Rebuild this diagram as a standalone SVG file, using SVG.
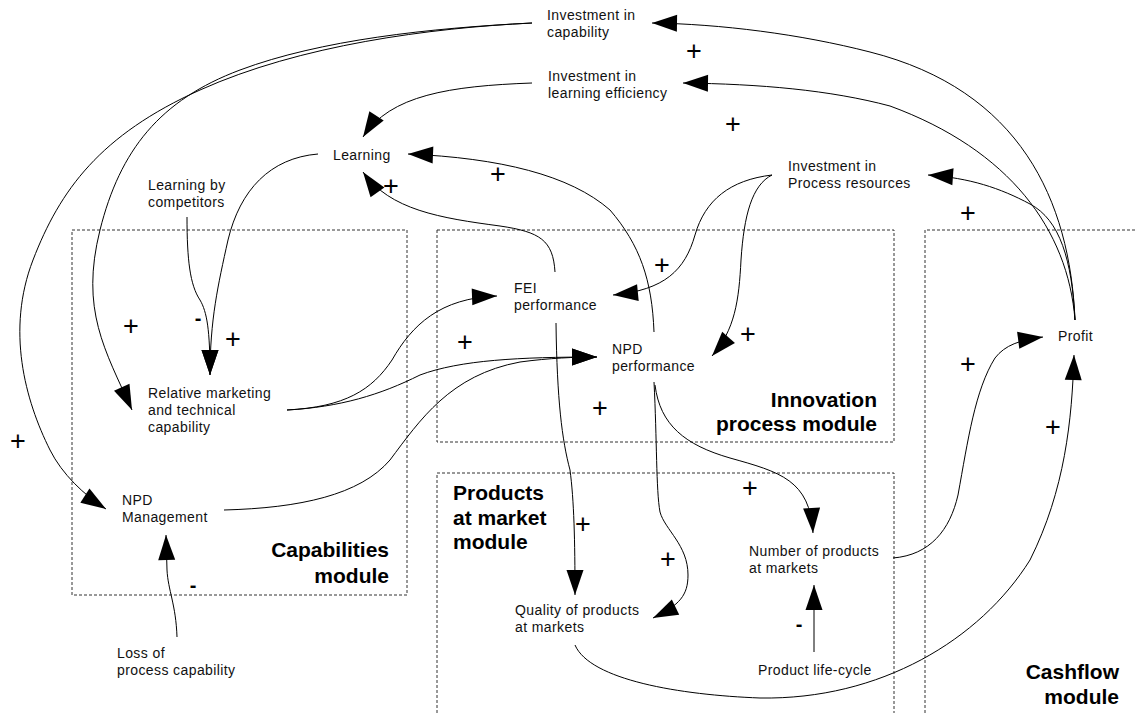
<svg xmlns="http://www.w3.org/2000/svg" width="1135" height="713" viewBox="0 0 1135 713">
<style>
.lbl{font-family:"Liberation Sans",Arial,sans-serif;font-size:14px;letter-spacing:0.4px;fill:#111}
.mod{font-family:"Liberation Sans",Arial,sans-serif;font-size:21px;font-weight:bold;fill:#000}
.sign{font-family:"Liberation Sans",Arial,sans-serif;font-size:27px;fill:#000;text-anchor:middle}
.minus{font-family:"Liberation Sans",Arial,sans-serif;font-size:20px;font-weight:bold;fill:#000;text-anchor:middle}
.box{fill:none;stroke:#333;stroke-width:1;stroke-dasharray:3,2}
.c{fill:none;stroke:#000;stroke-width:1;marker-end:url(#ah)}
</style>
<defs>
<marker id="ah" markerUnits="userSpaceOnUse" markerWidth="26" markerHeight="18" refX="25" refY="8.5" orient="auto" viewBox="0 0 26 18" overflow="visible">
<path d="M0,0 L25,8.5 L0,17 Z" fill="#000"/>
</marker>
</defs>
<rect width="1135" height="713" fill="#fff"/>

<g id="modules">
<g id="capabilities-module">
<rect class="box" x="72" y="230" width="335" height="365"/>
<text class="mod" text-anchor="end"><tspan x="389" y="557">Capabilities</tspan><tspan x="389" y="583">module</tspan></text>
</g>
<g id="innovation-module">
<rect class="box" x="437" y="230" width="457" height="212"/>
<text class="mod" text-anchor="end"><tspan x="877" y="407">Innovation</tspan><tspan x="877" y="431">process module</tspan></text>
</g>
<g id="products-module">
<path class="box" d="M437,713 L437,473 L894,473 L894,713"/>
<text class="mod"><tspan x="453" y="500">Products</tspan><tspan x="453" y="525">at market</tspan><tspan x="453" y="549">module</tspan></text>
</g>
<g id="cashflow-module">
<path class="box" d="M925,713 L925,230 L1135,230"/>
<text class="mod" text-anchor="end"><tspan x="1119" y="679">Cashflow</tspan><tspan x="1119" y="704">module</tspan></text>
</g>
</g>

<g id="connectors">
<path class="c" d="M1075,320 C1070,200 1020,90 870,52 C800,34 720,24 652,23"/>
<path class="c" d="M1075,320 C1068,230 1010,150 890,106 C830,90 760,84 683,83"/>
<path class="c" d="M1075,320 C1072,260 1060,220 1030,204 C1000,188 970,178 928,175"/>
<path class="c" d="M532,23 C430,28 300,45 200,90 S60,190 33,260 S25,400 50,450 C62,474 84,495 106,509"/>
<path class="c" d="M532,23 C430,28 320,40 240,70 S120,150 100,230 S105,350 132,410"/>
<path class="c" d="M532,83 C450,86 390,95 363,137"/>
<path class="c" d="M318,154 C270,158 240,190 228,240 C218,285 210,320 210,375"/>
<path class="c" d="M187,217 C187,260 190,285 200,300 C207,312 210,330 210,375"/>
<path class="c" d="M555,272 C553,240 540,232 500,226 C440,218 390,210 363,172"/>
<path class="c" d="M654,332 C652,280 640,245 610,210 C570,175 500,158 408,154"/>
<path class="c" d="M772,175 C730,180 705,200 695,235 C685,270 665,290 613,295"/>
<path class="c" d="M772,175 C752,185 744,215 741,260 C739,300 735,330 712,356"/>
<path class="c" d="M287,410 C345,407 372,390 392,360 C412,325 440,298 497,296"/>
<path class="c" d="M287,410 C340,407 380,395 420,375 C460,360 520,357 597,357"/>
<path class="c" d="M224,510 C300,508 360,495 390,460 C420,420 450,375 520,362 C550,358 575,357 597,357"/>
<path class="c" d="M556,323 C557,400 562,440 570,470 C574,500 575,540 575,595"/>
<path class="c" d="M654,382 C657,440 656,490 660,512 C665,530 688,545 688,575 C688,595 680,605 653,618"/>
<path class="c" d="M655,385 C660,425 685,445 730,458 C780,472 810,480 813,533"/>
<path class="c" d="M893,558 C930,555 950,530 958,495 C968,440 975,390 995,358 C1005,345 1020,340 1043,337"/>
<path class="c" d="M575,645 C590,680 680,695 760,698 C880,700 980,640 1030,560 C1065,490 1072,420 1074,355"/>
<path class="c" d="M814,652 L814,585"/>
<path class="c" d="M177,637 C176,605 168,590 167,570 L166,535"/>
</g>

<g id="signs">
<text class="sign" x="694" y="59.5">+</text>
<text class="sign" x="733" y="132.5">+</text>
<text class="sign" x="498" y="182.5">+</text>
<text class="sign" x="391" y="194.5">+</text>
<text class="sign" x="968" y="221.5">+</text>
<text class="sign" x="131" y="334.5">+</text>
<text class="sign" x="233" y="347.5">+</text>
<text class="sign" x="18" y="449.5">+</text>
<text class="sign" x="662" y="273.5">+</text>
<text class="sign" x="748" y="342.5">+</text>
<text class="sign" x="465" y="350.5">+</text>
<text class="sign" x="600" y="416.5">+</text>
<text class="sign" x="968" y="372.5">+</text>
<text class="sign" x="1053" y="435.5">+</text>
<text class="sign" x="750" y="496.5">+</text>
<text class="sign" x="583" y="532.5">+</text>
<text class="sign" x="668" y="567.5">+</text>
<text class="minus" x="198" y="325">-</text>
<text class="minus" x="193" y="592">-</text>
<text class="minus" x="799" y="631">-</text>
</g>

<g id="investment-capability"><text class="lbl"><tspan x="547" y="20">Investment in</tspan><tspan x="547" y="37">capability</tspan></text></g>
<g id="investment-learning"><text class="lbl"><tspan x="548" y="81">Investment in</tspan><tspan x="548" y="98">learning efficiency</tspan></text></g>
<g id="learning"><text class="lbl" x="333" y="160">Learning</text></g>
<g id="learning-competitors"><text class="lbl"><tspan x="148" y="190">Learning by</tspan><tspan x="148" y="207">competitors</tspan></text></g>
<g id="investment-process"><text class="lbl"><tspan x="788" y="171">Investment in</tspan><tspan x="788" y="188">Process resources</tspan></text></g>
<g id="fei-performance"><text class="lbl"><tspan x="514" y="293">FEI</tspan><tspan x="514" y="310">performance</tspan></text></g>
<g id="npd-performance"><text class="lbl"><tspan x="612" y="354">NPD</tspan><tspan x="612" y="371">performance</tspan></text></g>
<g id="relative-capability"><text class="lbl"><tspan x="148" y="398">Relative marketing</tspan><tspan x="148" y="415">and technical</tspan><tspan x="148" y="432">capability</tspan></text></g>
<g id="npd-management"><text class="lbl"><tspan x="122" y="505">NPD</tspan><tspan x="122" y="522">Management</tspan></text></g>
<g id="loss-capability"><text class="lbl"><tspan x="117" y="658">Loss of</tspan><tspan x="117" y="675">process capability</tspan></text></g>
<g id="profit"><text class="lbl" x="1058" y="341">Profit</text></g>
<g id="number-products"><text class="lbl"><tspan x="749" y="556">Number of products</tspan><tspan x="749" y="573">at markets</tspan></text></g>
<g id="quality-products"><text class="lbl"><tspan x="515" y="615">Quality of products</tspan><tspan x="515" y="632">at markets</tspan></text></g>
<g id="product-lifecycle"><text class="lbl" x="758" y="675">Product life-cycle</text></g>
</svg>
